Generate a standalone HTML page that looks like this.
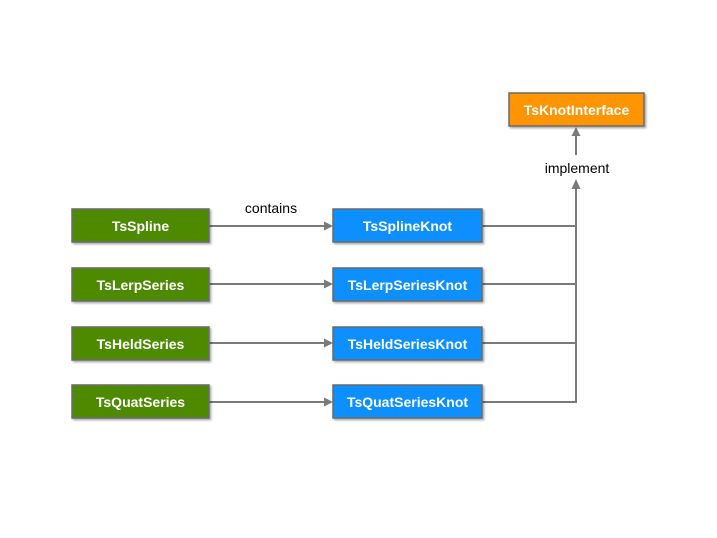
<!DOCTYPE html>
<html><head><meta charset="utf-8"><style>
html,body{margin:0;padding:0;background:#fff;}
svg{display:block}
text{font-family:"Liberation Sans",Arial,sans-serif;}
.b{font-weight:bold;font-size:14px;fill:#fff;text-anchor:middle}
</style></head><body>
<svg width="717" height="538" viewBox="0 0 717 538" xmlns="http://www.w3.org/2000/svg">
<defs>
<filter id="s" x="-10%" y="-20%" width="130%" height="160%"><feDropShadow dx="1.5" dy="1.5" stdDeviation="1" flood-color="#000" flood-opacity="0.35"/></filter>
</defs>
<g stroke="#7a7a7a" stroke-width="2" fill="none">
<line x1="209" y1="226" x2="325" y2="226"/>
<line x1="209" y1="284" x2="325" y2="284"/>
<line x1="209" y1="343" x2="325" y2="343"/>
<line x1="209" y1="402" x2="325" y2="402"/>
<line x1="482" y1="226" x2="576" y2="226"/>
<line x1="482" y1="284" x2="576" y2="284"/>
<line x1="482" y1="343" x2="576" y2="343"/>
<polyline points="482,402 576,402 576,188"/>
<line x1="576" y1="155" x2="576" y2="134"/>
</g>
<g fill="#7a7a7a">
<polygon points="333,226 324,221.5 324,230.5"/>
<polygon points="333,284 324,279.5 324,288.5"/>
<polygon points="333,343 324,338.5 324,347.5"/>
<polygon points="333,402 324,397.5 324,406.5"/>
<polygon points="576,179 571.5,189 580.5,189"/>
<polygon points="576,127 571.5,136 580.5,136"/>
</g>
<g stroke="#6b6b6b" stroke-width="1.5" filter="url(#s)">
<rect x="72" y="209" width="137" height="33" fill="#4d8a00"/>
<rect x="72" y="268" width="137" height="33" fill="#4d8a00"/>
<rect x="72" y="327" width="137" height="33" fill="#4d8a00"/>
<rect x="72" y="385" width="137" height="33" fill="#4d8a00"/>
<rect x="333" y="209" width="149" height="33" fill="#0a8fff"/>
<rect x="333" y="268" width="149" height="33" fill="#0a8fff"/>
<rect x="333" y="327" width="149" height="33" fill="#0a8fff"/>
<rect x="333" y="385" width="149" height="33" fill="#0a8fff"/>
<rect x="509" y="93" width="135" height="33" fill="#ff9500"/>
</g>
<text class="b" x="140.5" y="231">TsSpline</text>
<text class="b" x="140.5" y="290">TsLerpSeries</text>
<text class="b" x="140.5" y="349">TsHeldSeries</text>
<text class="b" x="140.5" y="407">TsQuatSeries</text>
<text class="b" x="407.5" y="231">TsSplineKnot</text>
<text class="b" x="407.5" y="290">TsLerpSeriesKnot</text>
<text class="b" x="407.5" y="349">TsHeldSeriesKnot</text>
<text class="b" x="407.5" y="407">TsQuatSeriesKnot</text>
<text class="b" x="576.5" y="115">TsKnotInterface</text>
<text x="271" y="213" font-size="14" text-anchor="middle" fill="#000">contains</text>
<text x="577" y="173" font-size="14" text-anchor="middle" fill="#000">implement</text>
</svg>
</body></html>
